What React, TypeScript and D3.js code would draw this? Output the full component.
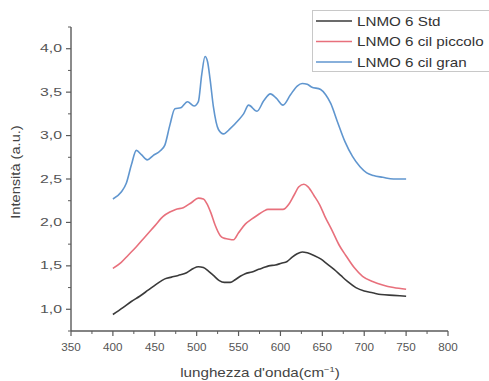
import React from "react";
import * as d3 from "d3";

// Raman spectra: wavenumber (cm^-1) and intensity (a.u.) per sample
const stdWave = [400, 412, 422, 432, 442, 452, 462, 470, 478, 488, 496, 502, 508, 514, 520, 527, 533, 540, 546, 552, 558, 566, 574, 580, 586, 594, 601, 608, 614, 620, 626, 632, 640, 648, 656, 664, 672, 680, 690, 700, 710, 720, 735, 750];
const stdVal = [0.94, 1.02, 1.09, 1.15, 1.22, 1.29, 1.35, 1.37, 1.39, 1.42, 1.47, 1.49, 1.48, 1.44, 1.39, 1.33, 1.31, 1.31, 1.34, 1.38, 1.41, 1.43, 1.46, 1.48, 1.5, 1.51, 1.53, 1.55, 1.6, 1.64, 1.66, 1.65, 1.62, 1.58, 1.52, 1.46, 1.39, 1.32, 1.25, 1.21, 1.19, 1.17, 1.16, 1.15];

const piccoloWave = [400, 410, 418, 428, 438, 450, 460, 468, 475, 484, 494, 502, 508, 512, 517, 522, 528, 532, 537, 544, 550, 558, 566, 572, 580, 585, 594, 603, 610, 616, 622, 628, 633, 640, 647, 653, 662, 670, 678, 688, 698, 710, 722, 735, 750];
const piccoloVal = [1.47, 1.54, 1.62, 1.72, 1.83, 1.96, 2.07, 2.12, 2.15, 2.17, 2.23, 2.28, 2.27, 2.22, 2.11, 1.97, 1.85, 1.82, 1.81, 1.8, 1.88, 1.98, 2.04, 2.08, 2.13, 2.15, 2.15, 2.15, 2.21, 2.31, 2.41, 2.44, 2.41, 2.31, 2.2, 2.07, 1.9, 1.74, 1.62, 1.48, 1.38, 1.32, 1.28, 1.25, 1.23];

const granWave = [400, 410, 416, 422, 428, 434, 441, 448, 456, 462, 468, 474, 481, 489, 497, 502, 506, 510, 513, 516, 520, 526, 532, 540, 550, 556, 562, 572, 580, 588, 595, 603, 612, 620, 626, 632, 637, 648, 654, 660, 668, 677, 686, 695, 703, 711, 722, 735, 750];
const granVal = [2.27, 2.35, 2.45, 2.66, 2.83, 2.78, 2.72, 2.77, 2.82, 2.89, 3.12, 3.31, 3.32, 3.39, 3.34, 3.39, 3.7, 3.91, 3.85, 3.65, 3.33, 3.07, 3.02, 3.08, 3.18, 3.25, 3.35, 3.28, 3.4, 3.48, 3.43, 3.35, 3.47, 3.57, 3.6, 3.59, 3.56, 3.53, 3.47, 3.37, 3.16, 2.93, 2.76, 2.64, 2.57, 2.54, 2.52, 2.5, 2.5];

const seriesNames = ["LNMO 6 Std", "LNMO 6 cil piccolo", "LNMO 6 cil gran"];
const seriesColors = ["#3a3a3a", "#e8707c", "#6096cf"];

const xTicks = [350, 400, 450, 500, 550, 600, 650, 700, 750, 800];
const xMinorTicks = [375, 425, 475, 525, 575, 625, 675, 725, 775];
const yTicks = [1.0, 1.5, 2.0, 2.5, 3.0, 3.5, 4.0];
const yMinorTicks = [0.75, 1.25, 1.75, 2.25, 2.75, 3.25, 3.75, 4.25];

const FONT = "'Liberation Sans', Arial, sans-serif";
const AXIS = "#5a5a5a";
// glyphs are drawn slightly widened, as in the exported figure
const STRETCH = 1.17;

export default function App() {
  const x = d3.scaleLinear().domain([350, 800]).range([71, 448]);
  const y = d3.scaleLinear().domain([0.75, 4.25]).range([331, 27]);

  const series = [
    { w: stdWave, v: stdVal },
    { w: piccoloWave, v: piccoloVal },
    { w: granWave, v: granVal },
  ];

  const line = d3
    .line<[number, number]>()
    .x((d) => x(d[0]))
    .y((d) => y(d[1]))
    .curve(d3.curveMonotoneX);

  const fmt = (v: number) => v.toFixed(1).replace(".", ",");

  return (
    <svg
      width={489}
      height={381}
      style={{ position: "absolute", left: 0, top: 0, background: "#fff" }}
      fontFamily={FONT}
    >
      {/* spectra */}
      {series.map((s, i) => (
        <path
          key={seriesNames[i]}
          d={line(s.w.map((w, k) => [w, s.v[k]] as [number, number])) || ""}
          fill="none"
          stroke={seriesColors[i]}
          strokeWidth={1.6}
        />
      ))}

      {/* axes */}
      <line x1={71} x2={71} y1={27} y2={331} stroke={AXIS} strokeWidth={1.4} />
      <line x1={71} x2={448} y1={331} y2={331} stroke={AXIS} strokeWidth={1.4} />

      {xTicks.map((t) => (
        <g key={"xt" + t}>
          <line x1={x(t)} x2={x(t)} y1={331} y2={336} stroke={AXIS} strokeWidth={1.2} />
          <text x={x(t)} y={350.5} textAnchor="middle" fontSize={10.5} fill="#555" textLength={19.5} lengthAdjust="spacingAndGlyphs">
            {t}
          </text>
        </g>
      ))}
      {xMinorTicks.map((t) => (
        <line key={"xm" + t} x1={x(t)} x2={x(t)} y1={331} y2={334} stroke={AXIS} strokeWidth={1} />
      ))}

      {yTicks.map((t) => (
        <g key={"yt" + t}>
          <line x1={66} x2={71} y1={y(t)} y2={y(t)} stroke={AXIS} strokeWidth={1.2} />
          <text x={62} y={y(t) + 3.6} textAnchor="end" fontSize={10.5} fill="#555" textLength={22} lengthAdjust="spacingAndGlyphs">
            {fmt(t)}
          </text>
        </g>
      ))}
      {yMinorTicks.map((t) => (
        <line key={"ym" + t} x1={68} x2={71} y1={y(t)} y2={y(t)} stroke={AXIS} strokeWidth={1} />
      ))}

      {/* axis titles */}
      <text
        transform={`translate(19.5,172) rotate(-90) scale(${STRETCH},1)`}
        textAnchor="middle"
        fontSize={12.5}
        fill="#444"
      >
        Intensità (a.u.)
      </text>
      <text
        transform={`translate(260,376.5) scale(${STRETCH},1)`}
        textAnchor="middle"
        fontSize={13}
        fill="#444"
      >
        lunghezza d'onda(cm
        <tspan dy={-5} fontSize={8}>−1</tspan>
        <tspan dy={5}>)</tspan>
      </text>

      {/* legend */}
      <rect x={312.5} y={10.5} width={180} height={61} fill="#fff" stroke="#c8c8c8" strokeWidth={1} />
      {seriesNames.map((n, i) => (
        <g key={"lg" + n}>
          <line x1={316} x2={352} y1={21 + i * 20.5} y2={21 + i * 20.5} stroke={seriesColors[i]} strokeWidth={1.6} />
          <text
            transform={`translate(357,${21 + i * 20.5 + 4.6}) scale(${STRETCH},1)`}
            fontSize={13}
            fill="#333"
          >
            {n}
          </text>
        </g>
      ))}
    </svg>
  );
}
